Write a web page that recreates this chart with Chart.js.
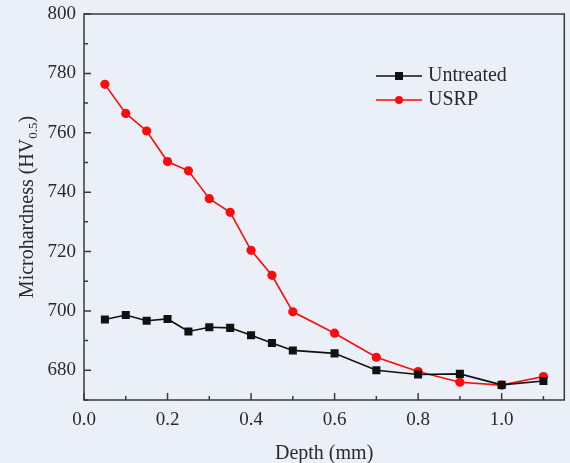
<!DOCTYPE html>
<html>
<head>
<meta charset="utf-8">
<script src="https://cdn.jsdelivr.net/npm/chart.js@4/dist/chart.umd.min.js"></script>
<style>
    html, body { margin: 0; padding: 0; background: #ebf0f8; }
    #wrap { width: 570px; height: 463px; position: relative; }
</style>
</head>
<body>
<div id="wrap"><canvas id="chart"></canvas></div>
<script>
// Datos
const depth = [0.05, 0.1, 0.15, 0.2, 0.25, 0.3, 0.35, 0.4, 0.45, 0.5, 0.6, 0.7, 0.8, 0.9, 1.0, 1.1];
const untreated = [697.1, 698.6, 696.7, 697.3, 693.1, 694.5, 694.3, 691.8, 689.2, 686.7, 685.7, 680.0, 678.6, 678.8, 675.1, 676.4];
const usrp = [776.3, 766.5, 760.6, 750.3, 747.2, 737.8, 733.2, 720.4, 712.0, 699.7, 692.5, 684.4, 679.6, 676.0, 675.0, 677.9];

const xTicks = [0.0, 0.2, 0.4, 0.6, 0.8, 1.0];
const xMinor = [0.1, 0.3, 0.5, 0.7, 0.9, 1.1];
const yTicks = [680, 700, 720, 740, 760, 780, 800];
const yMinor = [670, 690, 710, 730, 750, 770, 790];

const FONT = "'Liberation Serif', 'Times New Roman', serif";
const AXIS = '#3a3a3a';
const TEXT = '#2a2a2a';

// Ticks hacia adentro, marco, leyenda y titulos de ejes
const framePlugin = {
    id: 'frame',
    afterDraw(chart) {
        const ctx = chart.ctx;
        const a = chart.chartArea;
        const xs = chart.scales.x, ys = chart.scales.y;
        ctx.save();
        ctx.strokeStyle = AXIS;
        ctx.lineWidth = 1.5;
        ctx.strokeRect(a.left, a.top, a.right - a.left, a.bottom - a.top);

        ctx.beginPath();
        yTicks.forEach(v => { const y = ys.getPixelForValue(v); ctx.moveTo(a.left, y); ctx.lineTo(a.left + 7, y); });
        yMinor.forEach(v => { const y = ys.getPixelForValue(v); ctx.moveTo(a.left, y); ctx.lineTo(a.left + 4, y); });
        xTicks.forEach(v => { const x = xs.getPixelForValue(v); ctx.moveTo(x, a.bottom); ctx.lineTo(x, a.bottom - 7); });
        xMinor.forEach(v => { const x = xs.getPixelForValue(v); ctx.moveTo(x, a.bottom); ctx.lineTo(x, a.bottom - 4); });
        ctx.stroke();

        // leyenda
        const items = [
            { y: 76, ds: chart.data.datasets[0] },
            { y: 100, ds: chart.data.datasets[1] }
        ];
        items.forEach(it => {
            ctx.strokeStyle = it.ds.borderColor;
            ctx.lineWidth = 1.6;
            ctx.beginPath();
            ctx.moveTo(376, it.y);
            ctx.lineTo(422, it.y);
            ctx.stroke();
            ctx.fillStyle = it.ds.borderColor;
            if (it.ds.pointStyle === 'rect') {
                ctx.fillRect(395, it.y - 4, 8, 8);
            } else {
                ctx.beginPath();
                ctx.arc(399, it.y, 4, 0, Math.PI * 2);
                ctx.fill();
            }
            ctx.fillStyle = TEXT;
            ctx.font = '20px ' + FONT;
            ctx.textBaseline = 'middle';
            ctx.textAlign = 'left';
            ctx.fillText(it.ds.label, 428, it.y);
        });

        // titulo eje x
        ctx.fillStyle = TEXT;
        ctx.font = '20px ' + FONT;
        ctx.textAlign = 'center';
        ctx.textBaseline = 'middle';
        ctx.fillText('Depth (mm)', (a.left + a.right) / 2, 454);

        // titulo eje y con subindice
        const main = 'Microhardness (HV';
        const sub = '0.5';
        const end = ')';
        ctx.font = '20px ' + FONT;
        const w1 = ctx.measureText(main).width;
        const w3 = ctx.measureText(end).width;
        ctx.font = '13px ' + FONT;
        const w2 = ctx.measureText(sub).width;
        const total = w1 + w2 + w3;
        ctx.translate(26, (a.top + a.bottom) / 2);
        ctx.rotate(-Math.PI / 2);
        ctx.textAlign = 'left';
        ctx.textBaseline = 'alphabetic';
        let x0 = -total / 2;
        ctx.font = '20px ' + FONT;
        ctx.fillText(main, x0, 7);
        ctx.font = '13px ' + FONT;
        ctx.fillText(sub, x0 + w1, 11);
        ctx.font = '20px ' + FONT;
        ctx.fillText(end, x0 + w1 + w2, 7);
        ctx.restore();
    }
};

new Chart(document.getElementById('chart'), {
    type: 'line',
    data: {
        datasets: [
            {
                label: 'Untreated',
                data: depth.map((d, i) => ({ x: d, y: untreated[i] })),
                borderColor: '#111111',
                backgroundColor: '#111111',
                borderWidth: 1.6,
                pointStyle: 'rect',
                pointRadius: 5.7,
                pointBorderWidth: 0,
                tension: 0
            },
            {
                label: 'USRP',
                data: depth.map((d, i) => ({ x: d, y: usrp[i] })),
                borderColor: '#ff0a0a',
                backgroundColor: '#ff0a0a',
                borderWidth: 1.6,
                pointStyle: 'circle',
                pointRadius: 4.6,
                pointBorderWidth: 0,
                tension: 0
            }
        ]
    },
    options: {
        responsive: true,
        maintainAspectRatio: false,
        animation: false,
        layout: { padding: { top: 14, right: 5, left: 0, bottom: 0 } },
        plugins: {
            legend: { display: false },
            tooltip: { enabled: false }
        },
        scales: {
            x: {
                type: 'linear',
                min: 0,
                max: 1.15,
                grid: { display: false, drawTicks: false },
                border: { display: false },
                afterBuildTicks: function(scale) {
                    scale.ticks = xTicks.map(v => ({ value: v }));
                },
                afterFit: function(scale) {
                    scale.height = 63;
                    scale.paddingLeft = 0;
                    scale.paddingRight = 0;
                },
                ticks: {
                    padding: 9,
                    color: TEXT,
                    font: { family: FONT, size: 19 },
                    maxRotation: 0,
                    callback: function(value) { return Number(value).toFixed(1); }
                }
            },
            y: {
                min: 670,
                max: 800,
                grid: { display: false, drawTicks: false },
                border: { display: false },
                afterBuildTicks: function(scale) {
                    scale.ticks = yTicks.map(v => ({ value: v }));
                },
                afterFit: function(scale) {
                    scale.width = 84;
                    scale.paddingTop = 0;
                    scale.paddingBottom = 0;
                },
                ticks: {
                    padding: 8,
                    color: TEXT,
                    font: { family: FONT, size: 19 }
                }
            }
        }
    },
    plugins: [framePlugin]
});
</script>
</body>
</html>
